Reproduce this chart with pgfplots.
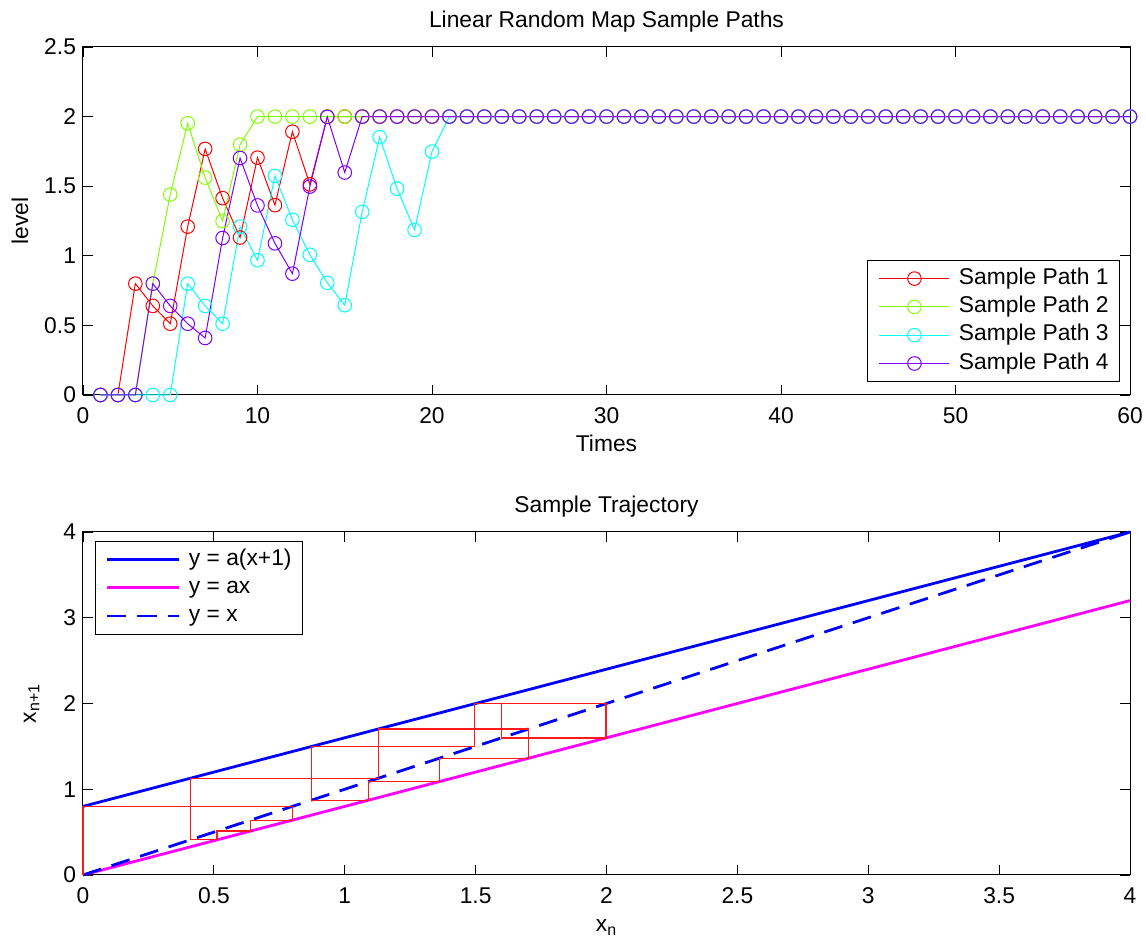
\documentclass[border=0pt]{standalone}
\usepackage{fontspec}
\setmainfont{Liberation Sans}
\usepackage{pgfplots}
\usepackage{pgfplotstable}
\pgfplotsset{compat=1.18}
\definecolor{c1}{rgb}{1,0,0}
\definecolor{c2}{rgb}{0.5,1,0}
\definecolor{c3}{rgb}{0,1,1}
\definecolor{c4}{rgb}{0.5,0,1}
\definecolor{mblue}{rgb}{0,0,1}
\definecolor{mmag}{rgb}{1,0,1}
\definecolor{mred}{rgb}{1,0.1,0.1}
\newcommand\fs{\fontsize{11.4}{13.7}\selectfont}

\pgfplotstableread{
t p1 p2 p3 p4
1 0 0 0 0
2 0 0 0 0
3 0.8 0 0 0
4 0.64 0.8 0 0.8
5 0.512 1.44 0 0.64
6 1.2096 1.952 0.8 0.512
7 1.76768 1.5616 0.64 0.4096
8 1.414144 1.24928 0.512 1.12768
9 1.1313152 1.799424 1.2096 1.702144
10 1.70505216 2 0.96768 1.3617152
11 1.36404173 2 1.574144 1.08937216
12 1.89123338 2 1.2593152 0.87149773
13 1.51298671 2 1.00745216 1.49719818
14 2 2 0.80596173 1.99775855
15 2 2 0.64476938 1.59820684
16 2 2 1.31581551 2
17 2 2 1.8526524 2
18 2 2 1.48212192 2
19 2 2 1.18569754 2
20 2 2 1.74855803 2
21 2 2 2 2
22 2 2 2 2
23 2 2 2 2
24 2 2 2 2
25 2 2 2 2
26 2 2 2 2
27 2 2 2 2
28 2 2 2 2
29 2 2 2 2
30 2 2 2 2
31 2 2 2 2
32 2 2 2 2
33 2 2 2 2
34 2 2 2 2
35 2 2 2 2
36 2 2 2 2
37 2 2 2 2
38 2 2 2 2
39 2 2 2 2
40 2 2 2 2
41 2 2 2 2
42 2 2 2 2
43 2 2 2 2
44 2 2 2 2
45 2 2 2 2
46 2 2 2 2
47 2 2 2 2
48 2 2 2 2
49 2 2 2 2
50 2 2 2 2
51 2 2 2 2
52 2 2 2 2
53 2 2 2 2
54 2 2 2 2
55 2 2 2 2
56 2 2 2 2
57 2 2 2 2
58 2 2 2 2
59 2 2 2 2
60 2 2 2 2
}\paths

\pgfplotstableread{
x y
0 0
0 0.8
0.8 0.8
0.8 0.64
0.64 0.64
0.64 0.512
0.512 0.512
0.512 0.4096
0.4096 0.4096
0.4096 1.12768
1.12768 1.12768
1.12768 1.702144
1.702144 1.702144
1.702144 1.3617152
1.3617152 1.3617152
1.3617152 1.08937216
1.08937216 1.08937216
1.08937216 0.87149773
0.87149773 0.87149773
0.87149773 1.49719818
1.49719818 1.49719818
1.49719818 1.99775855
1.99775855 1.99775855
1.99775855 1.59820684
1.59820684 1.59820684
1.59820684 2
2 2
}\cobweb

\pgfplotsset{
  mstyle/.style={
    scale only axis, clip=false,
    axis line style={line width=0.5pt},
    every tick/.style={black, line width=0.4pt},
    major tick length=5pt, tick align=inside, tick pos=both,
    /pgf/number format/assume math mode=true,
    xticklabel style={yshift=-3pt},
    every axis title/.style={at={(axis description cs:0.5,1)}, anchor=base, yshift=9.5pt},
  },
  lstyle/.style={
    draw=black, line width=0.5pt, fill=white,
    inner xsep=5.5pt, inner ysep=3.7pt, row sep=3.55pt, column sep=4.5pt,
    nodes={inner sep=0pt, text height=8.2pt, text depth=2.4pt},
    cells={anchor=west},
  },
}

\begin{document}
\begin{tikzpicture}[font=\fs]
\useasboundingbox (0,0) rectangle (573pt,473pt);
\begin{axis}[mstyle,
  at={(41.5pt,275.5pt)}, anchor=south west,
  width=523.5pt, height=174pt,
  xmin=0, xmax=60, ymin=0, ymax=2.5,
  xtick={0,10,...,60}, ytick={0,0.5,...,2.5},
  title={Linear Random Map Sample Paths},
  xlabel={Times}, ylabel={level},
  every axis x label/.style={at={(axis description cs:0.5,-0.161)}, anchor=base},
  every axis y label/.style={at={(axis description cs:-0.0525,0.5)}, rotate=90, anchor=base},
  legend style={lstyle, at={(rel axis cs:1,0)}, anchor=south east, xshift=-5pt, yshift=6.5pt},
  legend image code/.code={\draw[mark repeat=2,mark phase=2] plot coordinates {(0pt,0pt) (17.5pt,0pt) (35pt,0pt)};},
  every axis plot/.append style={line width=0.5pt, mark=o, mark size=3.4pt, mark options={solid}},
]
\addplot[c1] table[x=t,y=p1] {\paths};
\addlegendentry{Sample Path 1}
\addplot[c2] table[x=t,y=p2] {\paths};
\addlegendentry{Sample Path 2}
\addplot[c3] table[x=t,y=p3] {\paths};
\addlegendentry{Sample Path 3}
\addplot[c4] table[x=t,y=p4] {\paths};
\addlegendentry{Sample Path 4}
\end{axis}

\begin{axis}[mstyle,
  at={(41.5pt,35.5pt)}, anchor=south west,
  width=523.5pt, height=171.5pt,
  xmin=0, xmax=4, ymin=0, ymax=4,
  xtick={0,0.5,...,4}, ytick={0,1,...,4},
  title={Sample Trajectory},
  xlabel={x\textsubscript{n}}, ylabel={x\textsubscript{n+1}},
  every axis x label/.style={at={(axis description cs:0.5,-0.166)}, anchor=base},
  every axis y label/.style={at={(axis description cs:-0.0449,0.5)}, rotate=90, anchor=base},
  legend style={lstyle, at={(rel axis cs:0,1)}, anchor=north west, xshift=5.8pt, yshift=-4.5pt},
  legend image code/.code={\draw (0pt,0pt) -- (35.5pt,0pt);},
]
\addplot[mblue, line width=1.4pt] coordinates {(0,0.8) (4,4)};
\addlegendentry{y = a(x+1)}
\addplot[mmag, line width=1.4pt] coordinates {(0,0) (4,3.2)};
\addlegendentry{y = ax}
\addplot[mblue, line width=1.4pt, dash pattern=on 9.5pt off 5.5pt] coordinates {(0,0) (4,4)};
\addlegendentry{y = x}
\addplot[mred, line width=0.6pt, forget plot] table[x=x,y=y] {\cobweb};
\end{axis}
\end{tikzpicture}
\end{document}
